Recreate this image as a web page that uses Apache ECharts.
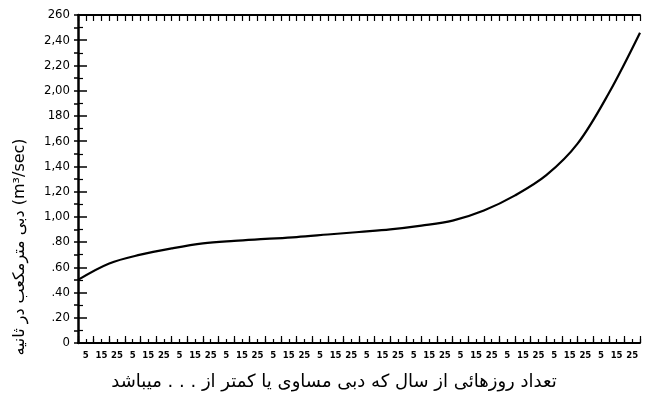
<!DOCTYPE html>
<html>
<head>
<meta charset="utf-8">
<script src="https://cdn.jsdelivr.net/npm/echarts@6/dist/echarts.min.js"></script>
<style>html,body{margin:0;padding:0;background:#fff;}#c{width:646px;height:398px;}</style>
</head>
<body>
<div id="c"></div>
<script>
// Data (x = day of year, 30-day months; y = discharge)
var days = [0, 20, 40, 60, 80, 100, 120, 140, 160, 180, 200, 220, 240, 260, 280, 300, 320, 340, 360];
var flow = [50, 63, 70, 75, 79, 81, 82.5, 84, 86, 88, 90, 93, 97, 105, 117, 133, 158, 198, 246];
var yTickLabels = ['0', '.20', '.40', '.60', '.80', '1,00', '1,20', '1,40', '1,60', '180', '2,00', '2,20', '2,40', '260'];
var xDayLabels = ['5', '15', '25'];
var yTitle = 'دبی مترمکعب در ثانیه (m³/sec)';
var xTitle = 'تعداد روزهائی از سال که دبی مساوی یا کمتر از . . . میباشد';

var chart = echarts.init(document.getElementById('c'), null, {renderer: 'canvas'});
var pts = days.map(function (d, i) { return [d, flow[i]]; });

chart.setOption({
  animation: false,
  backgroundColor: '#fff',
  grid: {left: 78, right: 6, top: 15, bottom: 55, containLabel: false},
  xAxis: [
    {
      type: 'value', min: 0, max: 360, interval: 5, position: 'bottom',
      axisLine: {show: true, lineStyle: {color: '#000', width: 2}},
      axisTick: {show: true, inside: true, length: 4, lineStyle: {color: '#000', width: 1.2}},
      splitLine: {show: false},
      axisLabel: {
        show: true, margin: 8, color: '#000', fontSize: 9.5, fontWeight: 'bold',
        fontFamily: 'DejaVu Sans Condensed, DejaVu Sans, sans-serif',
        formatter: function (v) {
          var m = v % 30;
          var idx = [5, 15, 25].indexOf(m);
          return idx >= 0 ? xDayLabels[idx] : '';
        }
      }
    },
    {
      type: 'value', min: 0, max: 360, interval: 10, position: 'bottom',
      axisLine: {show: false},
      axisTick: {show: true, inside: true, length: 7, lineStyle: {color: '#000', width: 1.2}},
      axisLabel: {show: false}, splitLine: {show: false}
    },
    {
      type: 'value', min: 0, max: 360, interval: 5, position: 'top',
      axisLine: {show: true, lineStyle: {color: '#000', width: 2}},
      axisTick: {show: true, inside: true, length: 6, lineStyle: {color: '#000', width: 1.2}},
      axisLabel: {show: false}, splitLine: {show: false}
    }
  ],
  yAxis: [
    {
      type: 'value', min: 0, max: 260, interval: 20, position: 'left',
      axisLine: {show: true, lineStyle: {color: '#000', width: 2.5}},
      axisTick: {show: true, inside: true, length: 9, lineStyle: {color: '#000', width: 1.5}},
      minorTick: {show: true, splitNumber: 2, length: 5, lineStyle: {color: '#000', width: 1.2}},
      splitLine: {show: false},
      axisLabel: {
        show: true, margin: 8, color: '#000', fontSize: 13,
        fontFamily: 'Liberation Sans Narrow, DejaVu Sans Condensed, sans-serif',
        formatter: function (v) { return yTickLabels[Math.round(v / 20)]; }
      }
    },
    {
      type: 'value', min: 0, max: 260, interval: 10, position: 'right',
      axisLine: {show: false},
      axisTick: {show: true, inside: true, length: 4, lineStyle: {color: '#000', width: 1.5}},
      axisLabel: {show: false}, splitLine: {show: false}
    }
  ],
  series: [{
    type: 'line', xAxisIndex: 0, yAxisIndex: 0, data: pts,
    smooth: 0.35, symbol: 'none',
    lineStyle: {color: '#000', width: 2.2}
  }],
  graphic: [
    {
      type: 'text', x: 334, y: 382,
      style: {text: xTitle, font: '18px "DejaVu Sans", sans-serif', fill: '#000', textAlign: 'center', textVerticalAlign: 'middle'}
    },
    {
      type: 'text', x: 20, y: 247, rotation: Math.PI / 2,
      style: {text: yTitle, font: '16px "DejaVu Sans", sans-serif', fill: '#000', textAlign: 'center', textVerticalAlign: 'middle'}
    }
  ]
});
</script>
</body>
</html>
